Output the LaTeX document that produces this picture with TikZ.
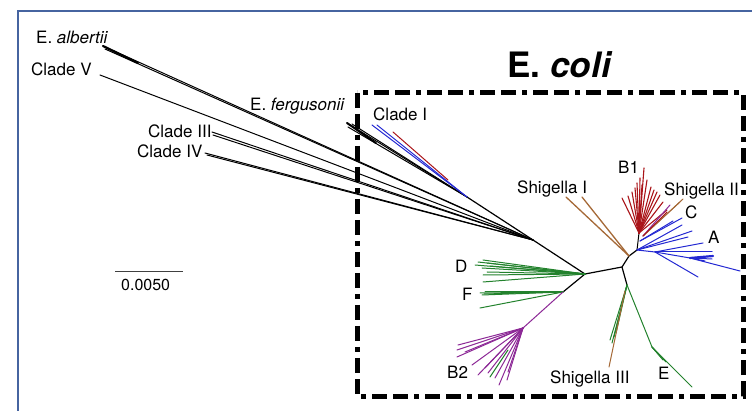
\documentclass[tikz,border=0pt]{standalone}
\usepackage{fontspec}
\setmainfont{TeX Gyre Heros}
\definecolor{frameblue}{RGB}{70,100,160}
\definecolor{bred}{RGB}{170,20,25}
\definecolor{bblue}{RGB}{35,40,210}
\definecolor{bgreen}{RGB}{35,130,45}
\definecolor{bpurple}{RGB}{140,40,150}
\definecolor{bbrown}{RGB}{165,105,55}
\begin{document}
\begin{tikzpicture}[x=1pt,y=-1pt,
  br/.style={line width=1pt, line cap=round},
  stem/.style={br, black, line width=1.2pt},
  lbl/.style={font=\fontsize{17}{17}\selectfont, anchor=base west, inner sep=0pt},
  ecolibox/.style={line width=5pt, dash pattern=on 15pt off 6pt on 15pt off 6pt on 5pt off 6pt},
  frame/.style={frameblue, line width=2pt}]
\useasboundingbox (0,0) rectangle (752,411);

% outer frame
\draw[frame] (18,420) -- (18,11.5) -- (760,11.5);

% E. coli box
\draw[ecolibox] (357,93) rectangle (743,396);
\node[font=\fontsize{35}{35}\selectfont\bfseries, anchor=base, inner sep=0pt] (title) at (560,78) {E. \textit{coli}};

% ---- internal nodes ----
\coordinate (JI) at (467,197);   % clade I junction
\coordinate (J0) at (533,240);   % outgroups join
\coordinate (J1) at (585,274);
\coordinate (J2) at (622,267);
\coordinate (J3a) at (629,256);
\coordinate (J3) at (637,250);
\coordinate (J4) at (627,285);
\coordinate (R)  at (639,233);   % B1 root
\coordinate (F0) at (563,292);
\coordinate (B2a) at (523,328);
\coordinate (A1) at (655,252);
\coordinate (A2) at (690,258);
\coordinate (E1) at (652,347);

% backbone
\draw[stem] (JI) -- (J0) -- (J1) -- (J2) -- (J3a) -- (J3);
\draw[stem] (J2) -- (J4);
\draw[stem] (J1) -- (F0);

% ---- outgroups ----
\foreach \x/\y [count=\i] in {103/46,105/49} {
  \coordinate (alb\i) at (\x,\y); \draw[br,black] (alb\i) -- (J0);}
\coordinate (albT) at (138,63);
\draw[black, line width=2.2pt, line cap=round] (alb1) -- (albT);
\coordinate (cV) at (100,75);
\draw[br,black] (cV) -- (J0);
\foreach \x/\y [count=\i] in {212/132,213/135} {
  \coordinate (c3\i) at (\x,\y); \draw[br,black] (c3\i) -- (J0);}
\foreach \x/\y [count=\i] in {205/153,207/155} {
  \coordinate (c4\i) at (\x,\y); \draw[br,black] (c4\i) -- (J0);}
\foreach \x/\y [count=\i] in {347/123,348/127,352/124} {
  \coordinate (fer\i) at (\x,\y); \draw[br,black] (fer\i) -- (JI);}
\coordinate (ferT) at (376,143);
\draw[black, line width=2pt, line cap=round] (fer1) -- (ferT);

% clade I
\foreach \x/\y [count=\i] in {372/125,377/125} {
  \coordinate (cI\i) at (\x,\y); \draw[br,bblue] (cI\i) -- (JI);}
\coordinate (cIr) at (393,132);
\coordinate (cIrE) at (448,180);
\draw[br,bred] (cIr) -- (cIrE);

% ---- B1 ----
\draw[br,black] (J3) -- (R);
\foreach \x/\y [count=\i] in {644/168,640/178,637/183,647/180,622/198,628/196,632/192,651/187,657/192,660/195,663/202,667/210,635/188,642/185,654/190} {
  \coordinate (b1-\i) at (\x,\y); \draw[br,bred,line width=1.1pt] (R) -- (b1-\i);}

% Shigella II
\coordinate (S2r) at (643,236);
\foreach \x/\y [count=\i] in {683/199,680/202} {
  \coordinate (s2-\i) at (\x,\y); \draw[br,bbrown] (S2r) -- (s2-\i);}
\coordinate (s2p) at (670,205);
\draw[br,bpurple] (S2r) -- (s2p);
\coordinate (s2r2) at (667,212);
\draw[br,bred] (S2r) -- (s2r2);

% C
\coordinate (Cr) at (640,241);
\foreach \x/\y [count=\i] in {682/218,673/221} {
  \coordinate (c-\i) at (\x,\y); \draw[br,bblue] (Cr) -- (c-\i);}

% A
\foreach \x/\y [count=\i] in {682/225,692/231,688/237} {
  \coordinate (a0-\i) at (\x,\y); \draw[br,bblue] (J3) -- (a0-\i);}
\draw[br,bblue] (J3) -- (A1);
\foreach \x/\y [count=\i] in {703/243,712/252,698/277} {
  \coordinate (a1-\i) at (\x,\y); \draw[br,bblue] (A1) -- (a1-\i);}
\draw[br,bblue] (A1) -- (A2);
\foreach \x/\y [count=\i] in {740/271,713/256,705/261,712/259} {
  \coordinate (a2-\i) at (\x,\y); \draw[br,bblue] (A2) -- (a2-\i);}
\draw[bblue, line width=2.2pt, line cap=round] (A2) -- (a2-2);

% Shigella I: two brown branches
\coordinate (s1a) at (566,197);
\coordinate (s1b) at (582,197);
\draw[bbrown, line width=1.3pt, line cap=round] (J3a) -- (s1a);
\draw[bbrown, line width=1.3pt, line cap=round] (J3a) -- (s1b);

% Shigella III
\foreach \x/\y [count=\i] in {610/340,612/343,614/337,616/333} {
  \coordinate (s3-\i) at (\x,\y); \draw[br,bgreen] (J4) -- (s3-\i);}
\coordinate (s3b0) at (625,291);
\coordinate (s3b) at (609,367);
\draw[br,bbrown] (s3b0) -- (s3b);

% E
\draw[br,bgreen] (J4) -- (E1);
\foreach \x/\y [count=\i] in {692/387,663/360,666/362,660/356} {
  \coordinate (e-\i) at (\x,\y); \draw[br,bgreen] (E1) -- (e-\i);}

% D
\foreach \x/\y [count=\i] in {483/260,478/262,475/265,487/263,482/268,487/272,483/275,483/282,490/266} {
  \coordinate (d-\i) at (\x,\y); \draw[br,bgreen] (J1) -- (d-\i);}

% F
\foreach \x/\y [count=\i] in {480/293,482/295,485/292,480/308,484/294} {
  \coordinate (f-\i) at (\x,\y); \draw[br,bgreen] (F0) -- (f-\i);}

% B2
\draw[br,bpurple] (F0) -- (B2a);
\foreach \x/\y [count=\i] in {458/345,457/350,457/357,472/365,478/375,488/373,495/378,499/385,507/380,508/372,465/352,485/368} {
  \coordinate (b2-\i) at (\x,\y); \draw[br,bpurple] (B2a) -- (b2-\i);}
\coordinate (b2g1) at (490,377);
\coordinate (b2g0) at (508,350);
\draw[br,bgreen] (b2g0) -- (b2g1);

% ---- labels ----
\node[lbl] (l-alb) at (36,44) {E. \textit{albertii}};
\node[lbl] (l-cV)  at (31,76) {Clade V};
\node[lbl] (l-fer) at (250,111) {E. \textit{fergusonii}};
\node[lbl] (l-c3)  at (148,138) {Clade III};
\node[lbl] (l-c4)  at (137,158) {Clade IV};
\node[lbl] (l-cI)  at (373,121) {Clade I};
\node[lbl] (l-s1)  at (517,194) {Shigella I};
\node[lbl] (l-b1)  at (618,174) {B1};
\node[lbl] (l-s2)  at (664,196) {Shigella II};
\node[lbl] (l-C)   at (685,219) {C};
\node[lbl] (l-A)   at (708,244) {A};
\node[lbl] (l-D)   at (455,273) {D};
\node[lbl] (l-F)   at (462,301) {F};
\node[lbl] (l-b2)  at (447,378) {B2};
\node[lbl] (l-s3)  at (550,384) {Shigella III};
\node[lbl] (l-E)   at (658,379) {E};

% scale bar
\coordinate (sb1) at (115,272);
\coordinate (sb2) at (183,272);
\draw[black!75, line width=1pt] (sb1) -- (sb2);
\node[lbl, font=\fontsize{16}{16}\selectfont] (l-sb) at (121,291) {0.0050};
\end{tikzpicture}
\end{document}
